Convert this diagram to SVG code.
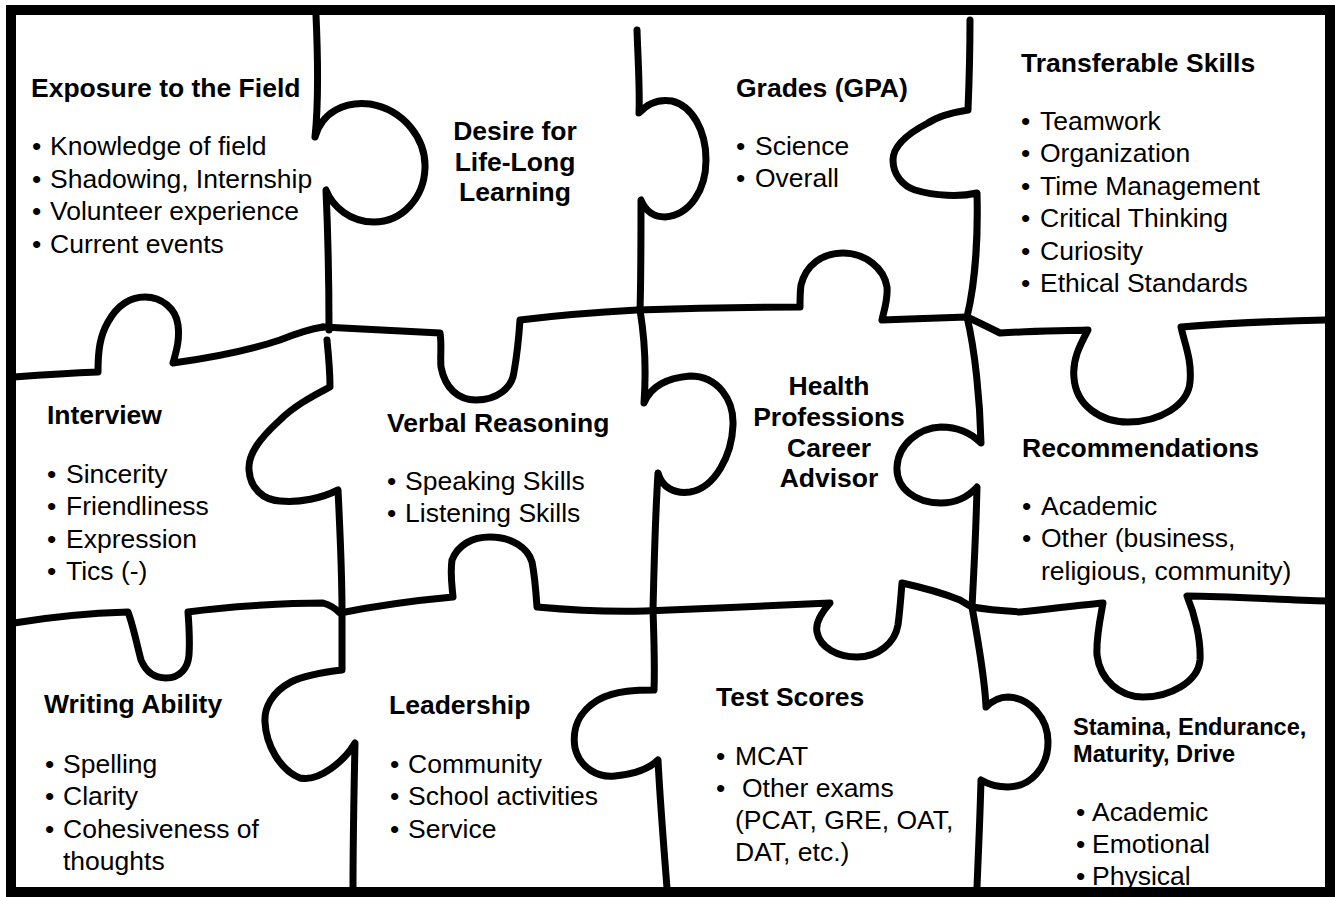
<svg xmlns="http://www.w3.org/2000/svg" width="1335" height="897" viewBox="0 0 1335 897">
<style>
.t{font-family:"Liberation Sans",Arial,sans-serif;font-size:26.5px;fill:#000}
.b{font-weight:bold}
.s{font-size:23.6px}
.c{text-anchor:middle}
.ln{fill:none;stroke:#000;stroke-width:7;stroke-linecap:round;stroke-linejoin:round}
</style>
<rect x="0" y="0" width="1335" height="897" fill="#fff"/>
<g id="connectors">
<path class="ln" d="M316,15 C318,60 319,100 315,137 C322,112 345,101 370,104 C405,110 426,140 425,168 C424,198 402,222 374,222 C350,222 333,207 326,190 C328,235 329,285 329,330"/>
<path class="ln" d="M14,377 C40,375 70,373 98,372 C98,350 100,336 108,322 C117,306 130,297 145,297 C162,297 176,309 178,325 C180,340 176,352 173,363 C210,358 250,350 280,340 C295,334 310,329 323,327"/>
<path class="ln" d="M323,327 C360,329 400,331 440,333 C442,345 440,355 441,367 C445,388 458,400 476,400 C497,400 512,388 514,372 C517,355 519,335 520,320 C560,315 600,312 637,310 C690,308 750,307 800,307 C800,298 800,292 801,285 C806,265 822,253 843,253 C865,253 884,268 887,287 C888,300 884,310 882,320 C910,319 940,318 967,317 C978,322 990,328 1000,333 C1030,331 1060,331 1088,330 C1080,345 1072,360 1074,378 C1076,405 1100,422 1128,422 C1160,422 1188,405 1190,382 C1192,360 1185,345 1181,327 C1230,323 1280,321 1325,320"/>
<path class="ln" d="M637,30 C638,60 640,90 639,113 C648,103 660,99 672,101 C692,106 706,130 706,160 C706,190 690,215 665,217 C655,217 646,212 641,200 C641,240 641,280 640,310 C645,340 646,375 644,403 C650,388 665,378 690,376 C718,376 734,400 733,425 C732,455 715,488 690,492 C675,494 662,488 658,473 C655,520 654,570 653,610 C654,640 655,665 654,690 C640,690 615,690 598,700 C578,712 572,730 575,748 C580,768 598,778 615,776 C635,774 650,768 658,760 C660,800 664,850 667,888"/>
<path class="ln" d="M970,20 C970,50 969,85 968,110 C955,112 940,115 928,123 C905,135 893,148 893,160 C893,175 903,186 915,190 C935,196 960,197 977,193 C978,230 976,280 967,317 C975,350 980,400 981,443 C970,432 955,427 941,427 C918,428 898,445 897,467 C896,488 915,503 941,503 C955,503 968,497 977,487 C976,530 974,570 972,607 C978,640 985,680 986,707 C993,700 1000,697 1008,697 C1030,698 1048,718 1048,742 C1048,768 1030,787 1008,787 C995,787 986,783 981,780 C980,820 978,860 977,888"/>
<path class="ln" d="M327,340 C329,360 330,375 330,387 C315,395 295,405 280,420 C258,440 248,455 249,470 C250,488 263,500 280,501 C300,503 322,498 338,490 C340,530 342,575 342,612 C342,635 342,655 342,670 C325,672 305,675 291,682 C272,692 264,708 265,722 C266,745 280,770 300,778 C320,782 345,760 355,743 C354,790 353,840 353,888"/>
<path class="ln" d="M14,623 C50,617 95,613 128,612 C133,625 137,645 141,660 C146,672 155,678 166,678 C180,678 188,668 189,655 C190,640 189,625 188,612 C230,606 290,603 323,603 C330,605 336,609 340,613 C380,605 420,600 453,597 C452,585 450,575 452,560 C458,545 472,537 490,537 C512,537 528,548 532,562 C535,577 536,592 537,607 C570,610 610,612 645,611 C700,609 780,605 830,603 C822,612 815,622 817,632 C820,648 838,657 857,657 C878,657 895,643 898,625 C900,610 901,595 902,583 C925,588 945,594 960,600 C965,603 968,605 972,607 C990,610 1005,611 1020,612 C1050,609 1080,605 1103,603 C1100,620 1096,638 1097,655 C1100,680 1120,697 1143,697 C1170,697 1198,682 1200,660 C1201,640 1195,615 1187,596 C1230,596 1280,600 1327,601"/>
</g>
<g id="exposure">
<text class="t b" x="31" y="97">Exposure to the Field</text>
<text class="t" y="155"><tspan x="32">•</tspan><tspan x="50">Knowledge of field</tspan></text>
<text class="t" y="187.5"><tspan x="32">•</tspan><tspan x="50">Shadowing, Internship</tspan></text>
<text class="t" y="220"><tspan x="32">•</tspan><tspan x="50">Volunteer experience</tspan></text>
<text class="t" y="252.5"><tspan x="32">•</tspan><tspan x="50">Current events</tspan></text>
</g>
<g id="desire">
<text class="t b c" x="515" y="140">Desire for</text>
<text class="t b c" x="515" y="170.5">Life-Long</text>
<text class="t b c" x="515" y="201">Learning</text>
</g>
<g id="grades">
<text class="t b" x="736" y="97">Grades (GPA)</text>
<text class="t" y="155"><tspan x="736">•</tspan><tspan x="755">Science</tspan></text>
<text class="t" y="187"><tspan x="736">•</tspan><tspan x="755">Overall</tspan></text>
</g>
<g id="transferable">
<text class="t b" x="1021" y="72">Transferable Skills</text>
<text class="t" y="130"><tspan x="1021">•</tspan><tspan x="1040">Teamwork</tspan></text>
<text class="t" y="162.4"><tspan x="1021">•</tspan><tspan x="1040">Organization</tspan></text>
<text class="t" y="194.8"><tspan x="1021">•</tspan><tspan x="1040">Time Management</tspan></text>
<text class="t" y="227.2"><tspan x="1021">•</tspan><tspan x="1040">Critical Thinking</tspan></text>
<text class="t" y="259.6"><tspan x="1021">•</tspan><tspan x="1040">Curiosity</tspan></text>
<text class="t" y="292"><tspan x="1021">•</tspan><tspan x="1040">Ethical Standards</tspan></text>
</g>
<g id="interview">
<text class="t b" x="47" y="424">Interview</text>
<text class="t" y="483"><tspan x="47">•</tspan><tspan x="66">Sincerity</tspan></text>
<text class="t" y="515.4"><tspan x="47">•</tspan><tspan x="66">Friendliness</tspan></text>
<text class="t" y="547.8"><tspan x="47">•</tspan><tspan x="66">Expression</tspan></text>
<text class="t" y="580.2"><tspan x="47">•</tspan><tspan x="66">Tics (-)</tspan></text>
</g>
<g id="verbal">
<text class="t b" x="387" y="432">Verbal Reasoning</text>
<text class="t" y="490"><tspan x="387">•</tspan><tspan x="405">Speaking Skills</tspan></text>
<text class="t" y="522"><tspan x="387">•</tspan><tspan x="405">Listening Skills</tspan></text>
</g>
<g id="advisor">
<text class="t b c" x="829" y="395">Health</text>
<text class="t b c" x="829" y="426">Professions</text>
<text class="t b c" x="829" y="457">Career</text>
<text class="t b c" x="829" y="487">Advisor</text>
</g>
<g id="recommendations">
<text class="t b" x="1022" y="457">Recommendations</text>
<text class="t" y="515"><tspan x="1022">•</tspan><tspan x="1041">Academic</tspan></text>
<text class="t" y="547.4"><tspan x="1022">•</tspan><tspan x="1041">Other (business,</tspan></text>
<text class="t" x="1041" y="580">religious, community)</text>
</g>
<g id="writing">
<text class="t b" x="44" y="713">Writing Ability</text>
<text class="t" y="773"><tspan x="45">•</tspan><tspan x="63">Spelling</tspan></text>
<text class="t" y="805.4"><tspan x="45">•</tspan><tspan x="63">Clarity</tspan></text>
<text class="t" y="837.8"><tspan x="45">•</tspan><tspan x="63">Cohesiveness of</tspan></text>
<text class="t" x="63" y="870">thoughts</text>
</g>
<g id="leadership">
<text class="t b" x="389" y="714">Leadership</text>
<text class="t" y="773"><tspan x="390">•</tspan><tspan x="408">Community</tspan></text>
<text class="t" y="805.4"><tspan x="390">•</tspan><tspan x="408">School activities</tspan></text>
<text class="t" y="837.8"><tspan x="390">•</tspan><tspan x="408">Service</tspan></text>
</g>
<g id="testscores">
<text class="t b" x="716" y="706">Test Scores</text>
<text class="t" y="765"><tspan x="716">•</tspan><tspan x="735">MCAT</tspan></text>
<text class="t" y="797"><tspan x="716">•</tspan><tspan x="742">Other exams</tspan></text>
<text class="t" x="735" y="829">(PCAT, GRE, OAT,</text>
<text class="t" x="735" y="861">DAT, etc.)</text>
</g>
<g id="stamina">
<text class="t b s" x="1073" y="735">Stamina, Endurance,</text>
<text class="t b s" x="1073" y="762">Maturity, Drive</text>
<text class="t" y="821"><tspan x="1076">•</tspan><tspan x="1092">Academic</tspan></text>
<text class="t" y="853"><tspan x="1076">•</tspan><tspan x="1092">Emotional</tspan></text>
<text class="t" y="885"><tspan x="1076">•</tspan><tspan x="1092">Physical</tspan></text>
</g>
<rect id="frame" x="11" y="10" width="1319" height="882" fill="none" stroke="#000" stroke-width="10"/>
</svg>
